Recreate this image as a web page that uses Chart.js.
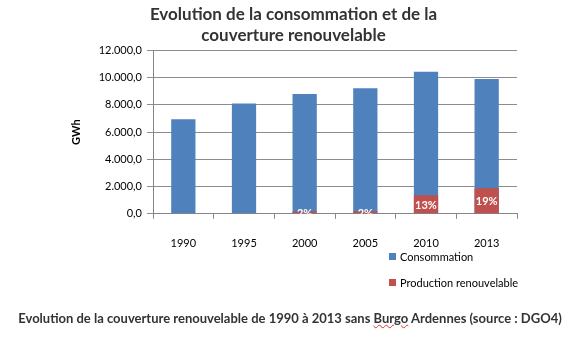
<!DOCTYPE html>
<html>
<head>
<meta charset="utf-8">
<script src="https://cdn.jsdelivr.net/npm/chart.js@4"></script>
<style>
  body { margin: 0; background: #fff; }
  #wrap { position: relative; width: 580px; height: 338px; }
  #caption {
    position: absolute; left: 0; top: 310px; width: 580px; text-align: center;
    font: bold 13px Lato, sans-serif; color: #333;
  }
  #caption .sp { text-decoration: underline wavy #e03030; text-decoration-thickness: 1px; }
</style>
</head>
<body>
<div id="wrap">
  <canvas id="chart" width="580" height="338"></canvas>
  <div id="caption">Evolution de la couverture renouvelable de 1990 à 2013 sans <span class="sp">Burgo</span> Ardennes (source : DGO4)</div>
</div>
<script>
const years = ['1990', '1995', '2000', '2005', '2010', '2013'];
const consommation = [6950, 8100, 8800, 9230, 10430, 9910];
const production = [0, 0, 176, 185, 1356, 1883];
const couverture = ['', '', '2%', '2%', '13%', '19%'];
const yTicks = [0, 2000, 4000, 6000, 8000, 10000, 12000];

function formatGWh(v) {
    // 12000 -> "12.000,0"
    return v.toFixed(1).replace('.', ',').replace(/\B(?=(\d{3})+(?!\d))/g, '.');
}

// white percentages inside the red bars
const pctLabels = {
    id: 'pctLabels',
    afterDatasetsDraw(chart) {
        const ctx = chart.ctx;
        const meta = chart.getDatasetMeta(1);
        const area = chart.chartArea;
        ctx.save();
        ctx.beginPath();
        ctx.rect(area.left, area.top, area.right - area.left, area.bottom - area.top);
        ctx.clip();
        ctx.font = 'bold 11px Lato, sans-serif';
        ctx.fillStyle = '#fff';
        ctx.textAlign = 'center';
        ctx.textBaseline = 'middle';
        meta.data.forEach((bar, i) => {
            if (!couverture[i]) return;
            ctx.fillText(couverture[i], bar.x, (bar.y + bar.base) / 2 + 1);
        });
        ctx.restore();
    }
};

// vertical legend under the plot, on the right
const sideLegend = {
    id: 'sideLegend',
    afterDraw(chart) {
        const ctx = chart.ctx;
        const x = chart.chartArea.right - 128;
        let y = 257;
        ctx.save();
        ctx.font = '11px Lato, sans-serif';
        ctx.textBaseline = 'middle';
        chart.data.datasets.forEach(ds => {
            ctx.fillStyle = ds.backgroundColor;
            ctx.fillRect(x, y - 4, 7, 7);
            ctx.fillStyle = '#000';
            ctx.fillText(ds.label, x + 11, y);
            y += 26;
        });
        ctx.restore();
    }
};

new Chart(document.getElementById('chart'), {
    type: 'bar',
    data: {
        labels: years,
        datasets: [
            {
                label: 'Consommation',
                data: consommation,
                backgroundColor: '#4F81BD',
                order: 1
            },
            {
                label: 'Production renouvelable',
                data: production,
                backgroundColor: '#C0504D',
                order: 0
            }
        ]
    },
    options: {
        responsive: false,
        animation: false,
        layout: { padding: { left: 70, right: 63, top: 2, bottom: 70 } },
        datasets: {
            bar: { categoryPercentage: 1, barPercentage: 0.4 }
        },
        scales: {
            x: {
                stacked: true,
                grid: { drawOnChartArea: false, color: '#868686', tickLength: 5 },
                border: { color: '#868686' },
                ticks: { color: '#000', padding: 18, font: { family: 'Lato', size: 11 } }
            },
            y: {
                min: 0,
                max: 12000,
                afterBuildTicks(scale) {
                    scale.ticks = yTicks.map(v => ({ value: v }));
                },
                afterFit(scale) { scale.width = 83; },
                grid: { color: '#8c8c8c', tickLength: 6 },
                border: { color: '#868686' },
                ticks: {
                    color: '#000',
                    padding: 5,
                    font: { family: 'Lato', size: 11 },
                    callback: v => formatGWh(v)
                },
                title: {
                    display: true,
                    text: 'GWh',
                    color: '#000',
                    font: { family: 'Lato', size: 11, weight: 'bold' },
                    padding: 0
                }
            }
        },
        plugins: {
            legend: { display: false },
            tooltip: { enabled: false },
            title: {
                display: true,
                text: ['Evolution de la consommation et de la', 'couverture renouvelable'],
                color: '#333',
                font: { family: 'Lato', size: 17, weight: 'bold', lineHeight: 1.25 },
                padding: { top: 2, bottom: 4 }
            }
        }
    },
    plugins: [pctLabels, sideLegend]
});
</script>
</body>
</html>
